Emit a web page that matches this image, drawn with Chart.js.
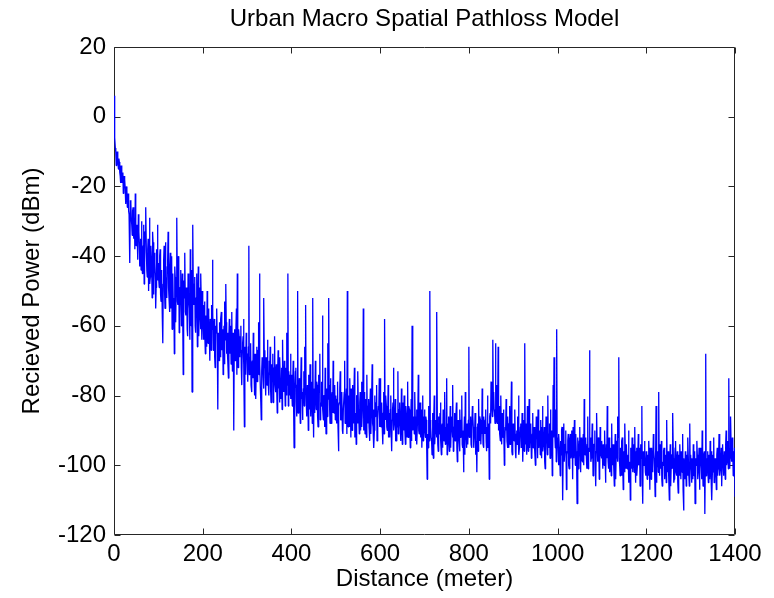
<!DOCTYPE html>
<html><head><meta charset="utf-8">
<style>html,body{margin:0;padding:0;background:#fff;}canvas{display:block;}</style>
<script src="https://cdn.jsdelivr.net/npm/chart.js@4/dist/chart.umd.min.js"></script>
</head><body>
<canvas id="c" width="774" height="598"></canvas>
<script>
const chartTitle = 'Urban Macro Spatial Pathloss Model';
const xAxisLabel = 'Distance (meter)';
const yAxisLabel = 'Recieved Power (dBm)';
const xTicks = [0, 200, 400, 600, 800, 1000, 1200, 1400];
const yTicks = [-120, -100, -80, -60, -40, -20, 0, 20];
const sampleStepMeters = 1;
// received power (dBm), one value per metre, 100 values per block of 100 m
const receivedPowerDbm = [
  6,-3,-6,-9,-10,-14,-12,-10,-11,-13,-15,-12,-13,-16,-17,-19,-14,-15,-19,-18,
  -16,-22,-21,-17,-18,-20,-23,-25,-20,-21,-26,-24,-22,-27,-28,-30,-42,-24,-25,-29,
  -31,-34,-27,-26,-35,-32,-29,-38,-22,-30,-37,-34,-31,-41,-40,-28,-33,-36,-43,-39,
  -35,-44,-30,-34,-45,-40,-37,-31,-48,-42,-33,-27,-26,-39,-44,-46,-38,-35,-50,-41,
  -29,-48,-46,-37,-40,-44,-52,-33,-36,-51,-47,-39,-42,-45,-55,-49,-38,-41,-31,-47,

  -42,-47,-49,-40,-38,-51,-53,-44,-45,-58,-65,-48,-41,-37,-50,-55,-36,-46,-47,-52,
  -43,-41,-33,-49,-52,-56,-44,-39,-55,-50,-40,-61,-48,-45,-57,-52,-68,-43,-46,-59,
  -51,-47,-29,-53,-54,-40,-42,-62,-58,-49,-49,-44,-60,-54,-45,-58,-74,-47,-52,-42,
  -39,-56,-57,-49,-50,-61,-63,-45,-47,-52,-55,-64,-38,-50,-60,-44,-79,-57,-31,-53,
  -54,-48,-46,-60,-62,-52,-51,-45,-66,-57,-43,-63,-58,-49,-53,-61,-45,-55,-64,-50,

  -56,-60,-64,-54,-53,-62,-68,-57,-59,-66,-50,-60,-65,-55,-57,-63,-70,-58,-61,-67,
  -54,-61,-41,-56,-67,-63,-58,-69,-72,-60,-62,-57,-55,-66,-84,-62,-64,-70,-59,-63,
  -69,-58,-56,-67,-66,-61,-74,-65,-60,-71,-53,-64,-48,-59,-68,-66,-62,-70,-75,-63,
  -58,-68,-66,-60,-71,-65,-56,-73,-64,-62,-90,-67,-61,-70,-69,-63,-55,-74,-45,-66,
  -72,-61,-63,-69,-68,-65,-60,-72,-77,-67,-65,-63,-58,-71,-89,-66,-70,-74,-62,-68,

  -68,-72,-76,-66,-37,-74,-73,-69,-65,-77,-79,-71,-70,-75,-62,-68,-75,-80,-68,-72,
  -81,-70,-66,-76,-72,-67,-59,-74,-45,-71,-78,-82,-87,-73,-69,-70,-74,-78,-52,-72,
  -67,-75,-80,-69,-71,-77,-64,-73,-77,-80,-70,-74,-66,-78,-82,-71,-73,-76,-68,-82,
  -76,-72,-63,-77,-79,-74,-71,-79,-85,-73,-67,-78,-74,-82,-69,-75,-81,-77,-72,-84,
  -64,-74,-78,-79,-70,-76,-83,-72,-75,-80,-62,-77,-45,-83,-73,-76,-80,-74,-68,-81,

  -74,-79,-83,-76,-70,-84,-95,-80,-78,-73,-72,-82,-86,-77,-50,-85,-81,-78,-75,-83,
  -88,-76,-69,-81,-79,-87,-84,-78,-73,-83,-66,-75,-54,-80,-85,-86,-77,-79,-90,-74,
  -80,-84,-71,-81,-86,-77,-76,-88,-52,-82,-92,-78,-79,-85,-70,-80,-84,-76,-77,-86,
  -89,-81,-74,-79,-68,-87,-82,-83,-76,-78,-57,-84,-87,-80,-80,-89,-72,-82,-91,-79,
  -78,-86,-65,-81,-52,-77,-83,-88,-75,-83,-88,-80,-79,-85,-70,-82,-85,-78,-77,-87,

  -80,-85,-88,-81,-76,-89,-96,-83,-82,-78,-73,-87,-87,-82,-79,-90,-91,-84,-84,-79,
  -70,-88,-86,-83,-78,-91,-50,-86,-89,-80,-81,-89,-75,-84,-92,-78,-83,-90,-77,-85,
  -88,-82,-72,-92,-85,-86,-94,-80,-80,-88,-73,-84,-87,-91,-82,-79,-90,-86,-76,-89,
  -84,-83,-55,-90,-79,-85,-91,-81,-83,-92,-74,-87,-88,-83,-81,-89,-93,-85,-78,-91,
  -86,-80,-71,-88,-89,-84,-95,-90,-80,-86,-85,-82,-77,-93,-92,-87,-83,-84,-75,-89,

  -75,-86,-89,-83,-82,-90,-94,-85,-79,-91,-58,-84,-87,-80,-83,-89,-90,-86,-77,-92,
  -85,-88,-92,-84,-80,-91,-96,-87,-84,-82,-72,-90,-88,-86,-81,-93,-93,-85,-86,-89,
  -73,-91,-90,-84,-82,-88,-87,-93,-78,-86,-94,-82,-85,-90,-80,-87,-89,-94,-83,-85,
  -92,-88,-76,-92,-88,-83,-84,-90,-95,-87,-81,-93,-60,-85,-90,-89,-86,-91,-79,-86,
  -93,-88,-84,-94,-88,-85,-74,-90,-91,-87,-82,-92,-87,-84,-95,-89,-80,-93,-89,-86,

  -84,-90,-92,-86,-87,-95,-104,-91,-95,-88,-83,-93,-50,-87,-89,-92,-93,-97,-85,-90,
  -98,-86,-80,-94,-91,-89,-87,-92,-56,-88,-94,-96,-86,-91,-90,-85,-82,-93,-97,-89,
  -88,-95,-84,-91,-93,-87,-79,-94,-89,-90,-75,-97,-92,-88,-86,-93,-96,-90,-83,-95,
  -90,-86,-88,-92,-77,-96,-94,-89,-85,-93,-91,-87,-82,-95,-99,-91,-87,-88,-93,-96,
  -84,-92,-90,-87,-80,-94,-95,-90,-102,-93,-86,-97,-79,-89,-92,-95,-88,-91,-94,-87,

  -66,-92,-91,-88,-86,-94,-95,-90,-83,-86,-89,-95,-92,-91,-85,-87,-97,-93,-102,-89,
  -88,-96,-81,-90,-93,-86,-87,-94,-90,-91,-78,-88,-94,-95,-86,-90,-91,-87,-84,-93,
  -96,-89,-80,-95,-88,-91,-104,-86,-85,-88,-76,-83,-82,-86,-64,-80,-79,-84,-85,-88,
  -65,-82,-77,-87,-88,-83,-66,-90,-83,-86,-91,-93,-80,-89,-94,-85,-87,-92,-84,-88,
  -100,-94,-89,-90,-81,-87,-93,-95,-86,-91,-95,-88,-83,-94,-90,-90,-76,-96,-97,-92,

  -88,-92,-93,-89,-84,-96,-98,-91,-90,-94,-86,-90,-80,-97,-95,-92,-89,-88,-92,-95,
  -85,-93,-99,-90,-87,-96,-65,-91,-94,-88,-90,-97,-83,-93,-96,-90,-81,-95,-91,-92,
  -88,-98,-97,-91,-85,-95,-93,-89,-89,-96,-100,-93,-86,-90,-92,-98,-84,-94,-95,-91,
  -90,-97,-87,-93,-98,-89,-83,-96,-94,-92,-89,-99,-101,-94,-86,-90,-92,-97,-80,-93,
  -95,-91,-88,-98,-84,-94,-97,-90,-103,-96,-77,-92,-69,-88,-90,-95,-84,-99,-61,-93,

  -92,-95,-100,-91,-95,-98,-103,-93,-97,-90,-89,-96,-110,-92,-88,-99,-99,-94,-94,-90,
  -107,-97,-96,-93,-91,-100,-101,-95,-93,-91,-98,-97,-90,-93,-104,-89,-95,-98,-87,-94,
  -100,-91,-96,-99,-111,-95,-92,-101,-98,-93,-89,-97,-102,-92,-94,-98,-99,-94,-91,-100,
  -81,-96,-97,-92,-93,-98,-101,-94,-86,-101,-95,-96,-67,-93,-92,-99,-98,-95,-88,-91,
  -103,-98,-94,-94,-90,-100,-106,-96,-85,-92,-96,-99,-92,-95,-104,-101,-89,-93,-97,-98,

  -93,-97,-101,-94,-96,-100,-90,-96,-105,-102,-94,-98,-83,-93,-99,-101,-92,-97,-102,-95,
  -95,-103,-88,-99,-100,-94,-97,-100,-106,-97,-91,-104,-98,-95,-93,-99,-86,-92,-69,-98,
  -100,-103,-95,-97,-103,-93,-92,-100,-107,-96,-97,-102,-88,-98,-101,-94,-94,-101,-99,-97,
  -90,-105,-104,-99,-110,-95,-96,-101,-92,-98,-102,-94,-97,-102,-89,-99,-105,-96,-95,-103,
  -100,-97,-91,-100,-98,-95,-106,-101,-94,-98,-83,-104,-111,-96,-99,-100,-93,-97,-102,-103,

  -96,-100,-104,-97,-99,-103,-93,-99,-107,-95,-100,-104,-95,-98,-102,-101,-91,-96,-98,-103,
  -109,-99,-83,-105,-101,-97,-96,-102,-79,-98,-103,-94,-98,-101,-93,-104,-106,-99,-100,-96,
  -95,-102,-104,-98,-97,-105,-87,-100,-102,-96,-99,-103,-110,-99,-94,-106,-101,-97,-97,-101,
  -85,-98,-105,-104,-99,-95,-93,-102,-103,-99,-96,-105,-108,-97,-100,-103,-94,-100,-104,-96,
  -98,-102,-91,-107,-113,-98,-101,-104,-96,-100,-106,-97,-99,-103,-92,-99,-103,-106,-88,-101,

  -97,-101,-105,-98,-100,-104,-94,-99,-103,-96,-111,-103,-98,-100,-93,-97,-104,-102,-99,-95,
  -107,-101,-95,-98,-101,-104,-90,-99,-106,-102,-97,-96,-114,-100,-68,-103,-102,-98,-96,-101,
  -105,-97,-99,-104,-93,-100,-103,-96,-110,-102,-97,-99,-92,-105,-104,-98,-99,-101,-107,-97,
  -95,-103,-101,-99,-91,-96,-103,-101,-98,-95,-106,-100,-94,-98,-100,-103,-96,-99,-104,-94,
  -90,-100,-99,-97,-93,-101,-75,-95,-101,-98,-86,-93,-97,-99,-92,-96,-103,-100,-96,-95,

  -109
];
const distanceMeters = receivedPowerDbm.map((_, i) => i * sampleStepMeters);

const FONT = '"Liberation Sans", Arial, sans-serif';
const AXIS_COLOR = '#262626';

const boxTicks = {
  id: 'boxTicks',
  beforeDatasetsDraw(chart) {
    const {ctx, chartArea: a, scales: {x, y}} = chart;
    const L = Math.round(a.left) + 0.5, R = Math.round(a.right) - 0.5;
    const T = Math.round(a.top) + 0.5, B = Math.round(a.bottom) - 0.5;
    const len = 6;
    ctx.save();
    ctx.strokeStyle = AXIS_COLOR;
    ctx.lineWidth = 1;
    ctx.beginPath();
    ctx.rect(L, T, R - L, B - T);
    x.ticks.forEach(t => {
      const p = Math.round(x.getPixelForValue(t.value)) + 0.5;
      ctx.moveTo(p, B); ctx.lineTo(p, B - len);
      ctx.moveTo(p, T); ctx.lineTo(p, T + len);
    });
    y.ticks.forEach(t => {
      const p = Math.round(y.getPixelForValue(t.value)) + 0.5;
      ctx.moveTo(L, p); ctx.lineTo(L + len, p);
      ctx.moveTo(R, p); ctx.lineTo(R - len, p);
    });
    ctx.stroke();
    ctx.restore();
  }
};

new Chart(document.getElementById('c'), {
  type: 'line',
  data: {
    datasets: [{
      data: distanceMeters.map((d, i) => ({x: d, y: receivedPowerDbm[i]})),
      borderColor: '#0000ff',
      borderWidth: 1.3,
      borderJoinStyle: 'bevel',
      pointRadius: 0,
      tension: 0,
      fill: false
    }]
  },
  options: {
    responsive: false,
    animation: false,
    devicePixelRatio: 1,
    layout: {padding: {left: 0, right: 39, top: 0, bottom: 0}},
    plugins: {
      legend: {display: false},
      tooltip: {enabled: false},
      title: {
        display: true, text: chartTitle, color: '#000', fullSize: false,
        font: {family: FONT, size: 24, weight: 'normal'},
        padding: {top: 5, bottom: 13.2}
      }
    },
    scales: {
      x: {
        type: 'linear', min: 0, max: 1400,
        afterBuildTicks: s => { s.ticks = xTicks.map(v => ({value: v})); },
        afterFit: s => { s.height = 63; },
        grid: {display: false, drawTicks: false},
        border: {display: false},
        ticks: {color: '#000', font: {family: FONT, size: 24}, padding: 5, maxRotation: 0, autoSkip: false, callback: v => String(v)},
        title: {display: true, text: xAxisLabel, color: '#000', font: {family: FONT, size: 24}, padding: {top: 0, bottom: 4}}
      },
      y: {
        type: 'linear', min: -120, max: 20,
        afterBuildTicks: s => { s.ticks = yTicks.map(v => ({value: v})); },
        afterFit: s => { s.width = 114; },
        grid: {display: false, drawTicks: false},
        border: {display: false},
        ticks: {color: '#000', font: {family: FONT, size: 24}, padding: 8, autoSkip: false, callback: v => String(v)},
        title: {display: true, text: yAxisLabel, color: '#000', font: {family: FONT, size: 24}, padding: {top: 18, bottom: 0}}
      }
    }
  },
  plugins: [boxTicks]
});
</script>
</body></html>
